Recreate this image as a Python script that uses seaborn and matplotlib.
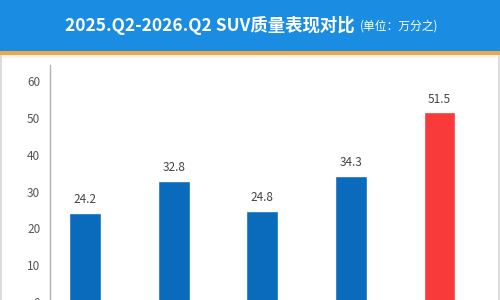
import matplotlib
matplotlib.use("Agg")
import matplotlib.pyplot as plt
import seaborn as sns
import pandas as pd
from matplotlib.patches import Rectangle

categories = ["2025.Q2", "2025.Q3", "2025.Q4", "2026.Q1", "2026.Q2"]
values = [24.2, 32.8, 24.8, 34.3, 51.5]
bar_colors = ["#0a6bbd", "#0a6bbd", "#0a6bbd", "#0a6bbd", "#f93a3a"]
yticks = [0, 10, 20, 30, 40, 50, 60]
title_main = "2025.Q2-2026.Q2 SUV质量表现对比"
title_unit = "(单位：万分之)"

sns.set_theme(style="white")
plt.rcParams["font.family"] = ["Noto Sans CJK SC", "DejaVu Sans"]

W, H = 500, 300
fig = plt.figure(figsize=(5, 3), dpi=100)
fig.patch.set_facecolor("white")

def fx(px):
    return px / W

def fy(py):
    return 1 - py / H

# header band
fig.patches.append(Rectangle((0, fy(51)), 1, 51 / H, transform=fig.transFigure,
                             facecolor="#1a8ce2", edgecolor="none", zorder=0))
fig.patches.append(Rectangle((0, fy(55)), 1, 4 / H, transform=fig.transFigure,
                             facecolor="#f0a64a", edgecolor="none", zorder=0))
fig.patches.append(Rectangle((0, fy(58)), 1, 3 / H, transform=fig.transFigure,
                             facecolor="#fdf6e6", edgecolor="none", zorder=0))
# side borders
fig.patches.append(Rectangle((0, 0), 2 / W, fy(55), transform=fig.transFigure,
                             facecolor="#dcdcdc", edgecolor="none", zorder=0))
fig.patches.append(Rectangle((1 - 2 / W, 0), 2 / W, fy(55), transform=fig.transFigure,
                             facecolor="#dcdcdc", edgecolor="none", zorder=0))

t1 = fig.text(fx(65), fy(25), title_main, color="white", fontsize=12.5,
              fontweight="bold", ha="left", va="center")
fig.canvas.draw()
bb = t1.get_window_extent()
fig.text(bb.x1 / W + fx(5), fy(26), title_unit, color="white", fontsize=8.5,
         ha="left", va="center")

# axes: y=0 at pixel 302, top at 65
ax_left, ax_right = 50, 492
ax_top, ax_bot = 65, 302
ax = fig.add_axes([fx(ax_left), fy(ax_bot), fx(ax_right - ax_left), (ax_bot - ax_top) / H])
ax.set_facecolor("none")

df = pd.DataFrame({"cat": categories, "val": values})
sns.barplot(data=df, x="cat", y="val", hue="cat", palette=bar_colors, legend=False,
            width=0.36, ax=ax, saturation=1)

px_per_unit = 88.6
ax.set_xlim(-35 / px_per_unit, 4 + (ax_right - 439.5) / px_per_unit)
ymax = (ax_bot - ax_top) / 3.68
ax.set_ylim(0, ymax)
ax.set_yticks(yticks)
ax.set_yticklabels([str(t) for t in yticks], color="#555555", fontsize=8.5)
ax.tick_params(axis="y", length=0, pad=7)
ax.set_xticks([])
ax.set_xlabel("")
ax.set_ylabel("")
for s in ["top", "right", "bottom"]:
    ax.spines[s].set_visible(False)
ax.spines["left"].set_color("#b0b0b0")
ax.spines["left"].set_linewidth(1)

for i, v in enumerate(values):
    ax.annotate(f"{v}", (i, v), xytext=(0, 5), textcoords="offset points",
                ha="center", va="bottom", fontsize=8.5, color="#444444")

fig.savefig("out.png", dpi=100)
